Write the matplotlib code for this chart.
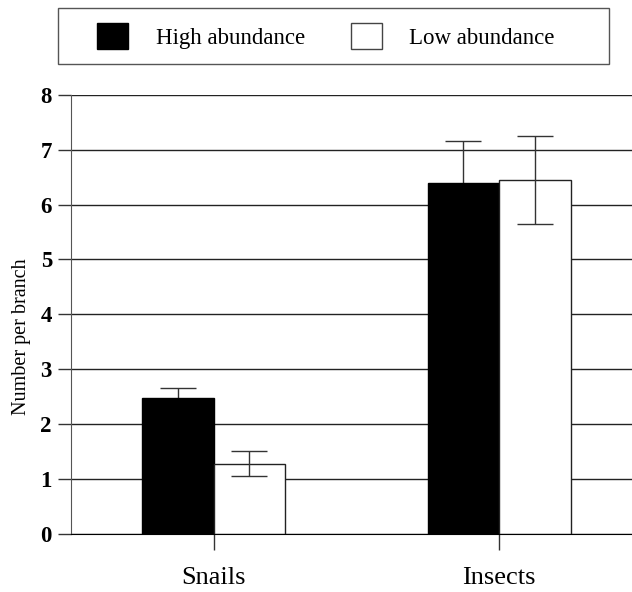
import matplotlib
matplotlib.use("Agg")
import matplotlib.pyplot as plt
from matplotlib.patches import Patch, Rectangle

categories = ["Snails", "Insects"]
high_abundance = [2.48, 6.39]
high_err = [0.18, 0.76]
low_abundance = [1.28, 6.44]
low_err = [0.23, 0.80]
y_ticks = [0, 1, 2, 3, 4, 5, 6, 7, 8]

plt.rcParams['font.family'] = ['Liberation Serif', 'DejaVu Serif']

fig = plt.figure(figsize=(6.32, 5.92), dpi=100)
ax = fig.add_axes([0.1119, 0.098, 0.8881, 0.742])

x = [i + 0.5 for i in range(len(categories))]
w = 0.25

# grid first so the bars sit on top of it
ax.set_axisbelow(True)
ax.yaxis.grid(True, color="#222222", linewidth=1.0)

# error bars of the black bars go underneath, only the upper half shows
ax.errorbar([p - w / 2 for p in x], high_abundance, yerr=high_err, fmt="none",
            ecolor="#333333", elinewidth=1.0, capsize=13, capthick=1.0, zorder=1.5)
ax.bar([p - w / 2 for p in x], high_abundance, width=w, color="black",
       edgecolor="black", linewidth=1.0, zorder=2)
ax.bar([p + w / 2 for p in x], low_abundance, width=w, color="white",
       edgecolor="#222222", linewidth=1.0, zorder=2)
ax.errorbar([p + w / 2 for p in x], low_abundance, yerr=low_err, fmt="none",
            ecolor="#333333", elinewidth=1.0, capsize=13, capthick=1.0, zorder=3)

ax.set_xlim(0, 1.965)
ax.set_ylim(0, 8)
ax.set_yticks(y_ticks)
ax.set_yticklabels([str(t) for t in y_ticks], fontsize=16.5, fontweight="bold")
ax.set_xticks(x)
ax.set_xticklabels(categories, fontsize=19)

ax.tick_params(axis="y", direction="out", length=9.5, width=1.0, color="#333333", pad=4)
ax.tick_params(axis="x", direction="out", length=11.5, width=1.0, color="#333333", pad=12)

ax.spines["top"].set_visible(False)
ax.spines["right"].set_visible(False)
ax.spines["left"].set_color("#555555")
ax.spines["bottom"].set_color("black")

ax.set_ylabel("Number per branch", fontsize=14.5)
ax.yaxis.set_label_coords(-0.07, 0.45)

# boxed legend across the top
fig.patches.append(Rectangle((58.3 / 632, 1 - 64.3 / 592), 551 / 632, 56 / 592,
                             transform=fig.transFigure, fill=False,
                             edgecolor="#555555", linewidth=1.0))
handles = [Patch(facecolor="black", edgecolor="black"),
           Patch(facecolor="white", edgecolor="#444444")]
fig.legend(handles, ["High abundance", "Low abundance"], ncol=2, frameon=False,
           loc="center left", bbox_to_anchor=(97.3 / 632, 1 - 36.3 / 592),
           borderpad=0, borderaxespad=0, fontsize=16.5, handlelength=1.35,
           handleheight=1.35, handletextpad=1.2, columnspacing=2.0)

plt.savefig("out.png", dpi=100)
